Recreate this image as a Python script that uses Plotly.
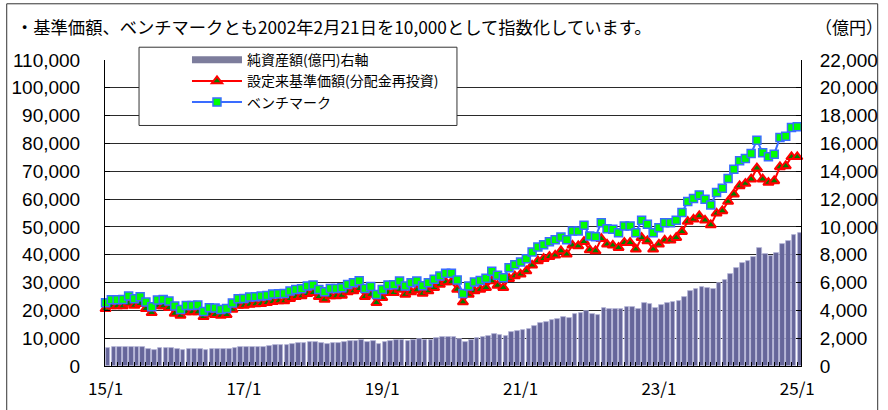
import plotly.graph_objects as go

# ---- data (monthly, 2015/1 .. 2025/1) ----
month_labels = [f"{(2015 + k // 12) % 100:02d}/{k % 12 + 1}" for k in range(121)]
x_idx = list(range(121))

tick_positions = [0, 24, 48, 72, 96, 120]
tick_labels = ["15/1", "17/1", "19/1", "21/1", "23/1", "25/1"]

benchmark = [
    22740, 23820, 23820, 23940, 25140, 24180, 24900, 22980, 21300, 23700, 23940, 23340,
    21540, 20340, 21780, 21780, 21900, 19620, 20940, 20820, 20340, 20700, 22620, 24180,
    24300, 24780, 24900, 25140, 25380, 25860, 25980,
    26100, 26940, 27540, 27780, 28740, 29100, 27540, 26700, 27900, 27900, 28140, 29340,
    29940, 30660, 27900, 28620, 25740, 27540, 29100, 29220, 30540, 28740, 29940, 30540,
    28860, 29940, 31140, 32340, 33300, 33300,
    30900, 26100, 28740, 30180, 30780, 31500, 34020, 32580, 31740, 35340, 36420, 37380,
    38580, 40980, 42780, 43620, 44700, 45420, 46380, 45420, 48540, 48540, 50580, 46740,
    46500, 51540, 49380, 49140, 47940, 50340,
    50340, 47940, 52380, 50940, 47940, 49740, 51540, 51540, 52380, 55140, 59100, 60180,
    61500, 59940, 57900, 62340, 63900, 67380, 70740, 73740, 74580, 76380, 81180, 76620,
    75180, 76140, 82140, 82620, 85740, 85980,
]

fund_nav = [
    20580, 21540, 21540, 21540, 22500, 21780, 22380, 20580, 19140, 21540, 21540, 20940,
    18900, 18180, 19380, 19380, 19380, 17700, 18660, 18420, 18180, 18420, 20340, 21780,
    21780, 22140, 22260, 22380, 22740, 23100, 23340,
    23340, 24180, 24900, 25140, 25980, 26340, 24900, 23940, 25140, 25140, 25380, 26580,
    26940, 27780, 24900, 25740, 22740, 24540, 26340, 26340, 27540, 25740, 26580, 27300,
    26100, 26940, 28140, 29340, 30180, 30180,
    27540, 22980, 25740, 26940, 27540, 28140, 30540, 28980, 28140, 31380, 32340, 32940,
    34140, 36180, 37740, 38580, 39300, 39780, 41340, 40140, 43380, 43140, 44700, 41700,
    41340, 45780, 43740, 43380, 42540, 44340,
    44340, 41940, 46140, 44940, 41940, 43740, 45180, 45180, 46140, 48300, 51900, 52740,
    53940, 52380, 50700, 54900, 55740, 59100, 61740, 64740, 65580, 67140, 71100, 67140,
    65940, 66540, 71580, 71940, 75180, 75180,
]

net_assets = [
    1310, 1350, 1350, 1350, 1380, 1350, 1350, 1240, 1150, 1290, 1310, 1290,
    1190, 1140, 1240, 1240, 1240, 1120, 1190, 1190, 1190, 1200, 1290, 1380,
    1380, 1380, 1380, 1400, 1430, 1480, 1500,
    1520, 1590, 1620, 1640, 1690, 1700, 1620, 1590, 1650, 1670, 1700, 1790,
    1830, 1860, 1720, 1780, 1590, 1720, 1830, 1840, 1880, 1830, 1880, 1930,
    1860, 1900, 2020, 2060, 2110, 2120,
    1950, 1710, 1860, 2030, 2070, 2150, 2310, 2240, 2190, 2430, 2510, 2580,
    2670, 2910, 3060, 3150, 3300, 3390, 3540, 3470, 3710, 3780, 3990, 3710,
    3680, 4190, 4070, 4110, 4070, 4230,
    4236, 4116, 4524, 4428, 4188, 4356, 4524, 4572, 4668, 4956, 5388, 5556,
    5700, 5628, 5508, 5988, 6180, 6588, 7020, 7380, 7548, 7836, 8460, 8028,
    7884, 8148, 8796, 8988, 9396, 9564,
]

name_assets = "純資産額(億円)右軸"
name_fund = "設定来基準価額(分配金再投資)"
name_bm = "ベンチマーク"
title_text = "・基準価額、ベンチマークとも2002年2月21日を10,000として指数化しています。"
unit_text = "（億円）"

JP = "Noto Sans CJK JP"
NUM = "Liberation Sans, Arial, sans-serif"

fig = go.Figure()

# bars (right axis)
fig.add_trace(go.Bar(
    x=x_idx, y=net_assets, yaxis="y2", name=name_assets,
    customdata=month_labels,
    width=0.8, offset=0.05,
    marker=dict(color="#66669a", line=dict(color="#b4b4d6", width=0.8)),
    showlegend=False,
))
# legend stand-in for the bar series
fig.add_trace(go.Scatter(
    x=[None], y=[None], mode="lines", name=name_assets,
    line=dict(color="#7d7d9c", width=7), legendgroup="a",
))
fig.add_trace(go.Scatter(
    x=x_idx, y=fund_nav, mode="lines+markers", name=name_fund,
    line=dict(color="#ff0000", width=2),
    marker=dict(symbol="triangle-up", size=9, color="#008000",
                line=dict(color="#ff0000", width=2)),
    cliponaxis=False, legendgroup="b",
))
fig.add_trace(go.Scatter(
    x=x_idx, y=benchmark, mode="lines+markers", name=name_bm,
    line=dict(color="#3a6cff", width=2),
    marker=dict(symbol="square", size=8, color="#00ff00",
                line=dict(color="#3a6cff", width=1.5)),
    cliponaxis=False, legendgroup="c",
))

fig.update_layout(
    width=888, height=410,
    margin=dict(l=105, r=87, t=60, b=44, autoexpand=False),
    paper_bgcolor="white", plot_bgcolor="white",
    font=dict(family=JP, size=14, color="black"),
    bargap=0,
    xaxis=dict(
        range=[-0.1, 120.65],
        tickmode="array", tickvals=tick_positions, ticktext=tick_labels,
        ticks="inside", ticklen=4, tickcolor="black",
        minor=dict(tickmode="linear", tick0=0, dtick=1, ticks="inside",
                   ticklen=4, tickcolor="black", showgrid=False),
        showline=True, linecolor="black", linewidth=1,
        showgrid=False, zeroline=False,
        tickfont=dict(family=JP, size=17, color="black"),
        ticklabelstandoff=8, automargin=False,
    ),
    yaxis=dict(
        range=[0, 110000], dtick=10000, tickformat=",d",
        showline=True, linecolor="black", linewidth=1,
        ticks="inside", ticklen=5, tickcolor="black",
        showgrid=True, gridcolor="#2a2a2a", gridwidth=1, zeroline=False,
        tickfont=dict(family=NUM, size=19, color="black"),
        ticklabelstandoff=20, automargin=False,
    ),
    yaxis2=dict(
        range=[0, 22000], dtick=2000, tickformat=",d",
        overlaying="y", side="right",
        showline=True, linecolor="black", linewidth=1,
        ticks="inside", ticklen=5, tickcolor="black",
        showgrid=False, zeroline=False,
        tickfont=dict(family=NUM, size=19, color="black"),
        ticklabelstandoff=14, automargin=False,
    ),
    legend=dict(
        x=0.1178, y=1.052, xanchor="left", yanchor="top",
        bgcolor="rgba(0,0,0,0)", borderwidth=0,
        font=dict(family=JP, size=14, color="black"),
        itemwidth=50, tracegroupgap=12, traceorder="normal",
    ),
    shapes=[
        # outer frame
        dict(type="rect", xref="paper", yref="paper",
             x0=-0.1412, x1=1.1102, y0=-0.175, y1=1.1837,
             line=dict(color="#333333", width=1), fillcolor="rgba(0,0,0,0)",
             layer="below"),
        # legend box
        dict(type="rect", xref="paper", yref="paper",
             x0=0.0489, x1=0.5057, y0=0.786, y1=1.0418,
             line=dict(color="#333333", width=1), fillcolor="white",
             layer="above"),
    ],
    annotations=[
        dict(text=title_text, xref="paper", yref="paper", x=-0.1307, y=1.1095,
             xanchor="left", yanchor="middle", showarrow=False,
             font=dict(family=JP, size=17.3, color="black")),
        dict(text=unit_text, xref="paper", yref="paper", x=1.1207, y=1.1095,
             xanchor="right", yanchor="middle", showarrow=False,
             font=dict(family=JP, size=17, color="black")),
    ],
)

fig.write_html("out.html", config={"displayModeBar": False},
               post_script="document.body.style.margin='0px';")
